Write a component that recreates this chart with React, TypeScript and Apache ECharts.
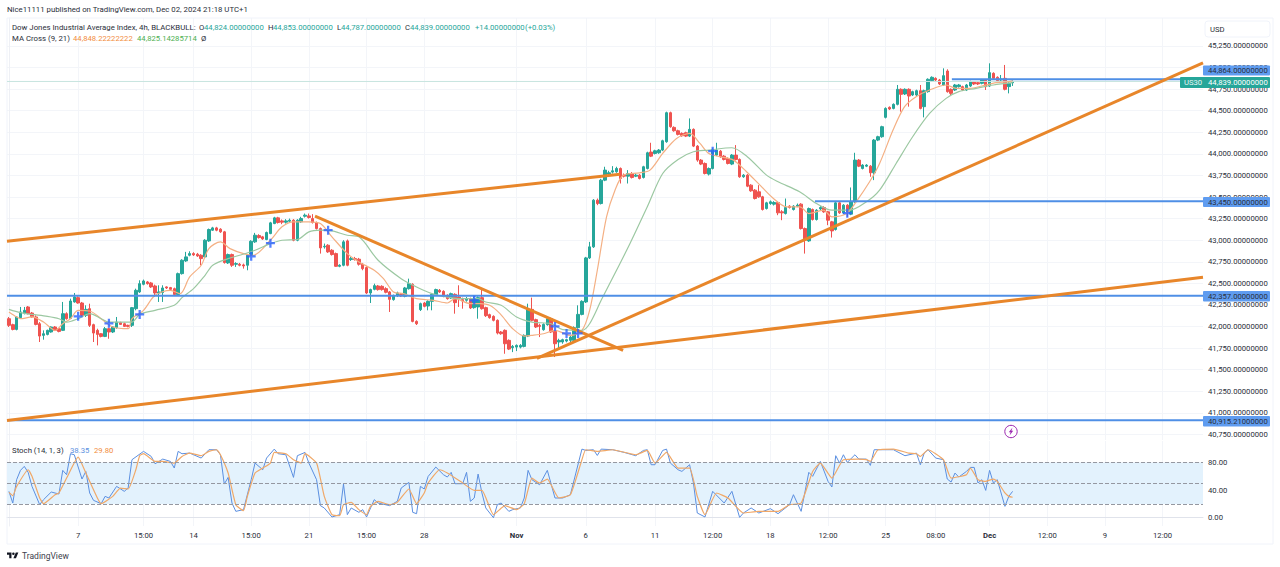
import React, { useEffect, useRef } from "react";
import * as echarts from "echarts";

// open, high, low, close of each 4h bar
const ohlc: number[][] = [
[42091,42111,41995,42014],[42022,42033,41956,41967],[41967,42118,41956,42111],[42103,42227,42091,42169],[42157,42227,42141,42188],
[42227,42238,42141,42149],[42157,42169,42103,42111],[42111,42130,42014,42025],[42033,42052,41821,41890],[41898,41956,41848,41917],
[41909,41964,41898,41956],[41937,42002,41929,41995],[41995,42006,41948,41956],[41975,41983,41933,41944],[41956,42285,41948,42149],
[42149,42165,42080,42091],[42095,42323,42087,42296],[42285,42389,42277,42342],[42335,42350,42265,42273],[42273,42285,42118,42130],
[42130,42246,42111,42199],[42207,42265,41995,42014],[42022,42033,41821,41925],[41956,41975,41782,41909],[41917,41925,41875,41886],
[41886,41995,41878,41975],[41975,41987,41859,41937],[41937,42006,41925,41995],[41987,42111,41975,42052],[42045,42056,42018,42025],
[42033,42045,41995,42002],[42014,42022,41991,42002],[42014,42227,41995,42219],[42207,42439,42188,42420],[42401,42536,42389,42497],
[42490,42544,42478,42528],[42517,42528,42486,42497],[42505,42517,42447,42459],[42470,42486,42342,42389],[42389,42478,42285,42401],
[42393,42478,42285,42447],[42459,42466,42435,42447],[42451,42459,42420,42431],[42439,42451,42358,42370],[42370,42625,42358,42613],
[42613,42780,42602,42768],[42760,42865,42749,42807],[42826,42872,42814,42845],[42845,42861,42818,42830],[42838,42853,42807,42818],
[42826,42838,42710,42787],[42807,43012,42795,43000],[42992,43135,42981,43124],[43116,43155,43108,43143],[43143,43155,43104,43116],
[43128,43139,43085,43097],[43097,43108,42729,42741],[42737,42845,42725,42834],[42834,42845,42691,42710],[42722,42745,42691,42729],
[42722,42737,42698,42710],[42714,42729,42671,42702],[42710,42838,42652,42826],[42826,43000,42814,42988],[42981,43085,42969,43058],
[43054,43070,43019,43031],[43039,43050,43004,43015],[43008,43100,43000,43089],[43077,43213,43070,43201],[43193,43271,43186,43259],
[43259,43271,43193,43205],[43224,43240,43186,43209],[43209,43244,43193,43224],[43220,43251,43201,43232],[43232,43244,42988,43000],
[43000,43244,42988,43232],[43213,43271,43201,43251],[43278,43309,43263,43290],[43282,43309,43251,43263],[43251,43302,43193,43205],
[43205,43216,43124,43135],[43135,43147,42845,42911],[42923,42961,42903,42930],[42942,42954,42853,42865],[42884,42896,42822,42834],
[42845,42857,42691,42698],[42698,42722,42687,42710],[42710,43000,42698,42981],[42992,43008,42698,42710],[42776,42807,42760,42787],
[42787,42807,42764,42776],[42780,42795,42706,42722],[42722,42737,42652,42671],[42683,42698,42377,42389],[42389,42439,42273,42428],
[42431,42497,42420,42474],[42470,42482,42416,42428],[42466,42478,42416,42428],[42439,42455,42385,42397],[42401,42412,42169,42315],
[42312,42370,42300,42358],[42358,42404,42342,42389],[42373,42389,42342,42354],[42350,42459,42339,42447],[42439,42555,42428,42497],
[42490,42501,42049,42060],[42060,42072,42018,42033],[42196,42277,42180,42265],[42273,42285,42223,42234],[42238,42304,42188,42292],
[42292,42385,42188,42373],[42370,42439,42358,42428],[42420,42435,42389,42401],[42408,42420,42339,42350],[42362,42373,42312,42323],
[42331,42393,42319,42381],[42373,42385,42149,42277],[42342,42478,42227,42323],[42312,42335,42207,42296],[42304,42342,42288,42323],
[42323,42335,42203,42215],[42219,42342,42207,42323],[42227,42350,42091,42335],[42335,42439,42196,42207],[42219,42230,42111,42126],
[42138,42149,42091,42103],[42118,42130,42060,42072],[42072,42083,41909,41925],[41937,41948,41905,41917],[41956,41967,41685,41801],
[41840,41851,41728,41739],[41755,41786,41704,41770],[41762,41793,41716,41782],[41762,41797,41747,41782],[41770,41909,41759,41898],
[41890,42265,41878,42196],[42199,42335,42060,42072],[42080,42091,41983,41995],[42014,42033,41878,42002],[41964,42037,41952,42025],
[42022,42111,42010,42091],[42091,42103,41925,41937],[41944,41956,41647,41801],[41821,41859,41743,41840],[41821,41859,41801,41848],
[41832,41859,41817,41848],[41840,41890,41821,41878],[41840,42002,41828,41987],[41987,42246,41975,42141],[42141,42304,42130,42292],
[42285,42807,42273,42795],[42795,42981,42783,42923],[42923,43476,42911,43464],[43464,43483,43406,43425],[43425,43711,43414,43696],
[43696,43851,43684,43812],[43766,43804,43750,43781],[43789,43858,43773,43804],[43793,43851,43781,43831],[43831,43843,43657,43715],
[43754,43773,43727,43742],[43742,43812,43657,43773],[43773,43789,43715,43727],[43742,43773,43731,43754],[43754,43766,43704,43715],
[43727,43862,43715,43851],[43831,44025,43820,44013],[44021,44129,43963,43974],[44005,44048,43994,44036],[44013,44056,44001,44044],
[44044,44164,44032,44152],[44141,44489,44129,44477],[44477,44489,44303,44315],[44307,44319,44257,44268],[44268,44280,44214,44226],
[44237,44249,44199,44210],[44245,44257,44195,44206],[44206,44411,44195,44284],[44284,44295,44079,44090],[44090,44102,43909,43928],
[43928,43940,43870,43882],[43889,43901,43762,43773],[43766,43843,43750,43831],[43831,44063,43820,44052],[43986,44129,43974,44044],
[44032,44044,43955,43967],[43974,43986,43924,43936],[43947,43959,43878,43889],[43882,43998,43870,43986],[43986,44102,43924,43936],
[43936,43947,43723,43735],[43735,43766,43723,43754],[43754,43766,43615,43626],[43638,43649,43561,43572],[43580,43592,43472,43483],
[43561,43638,43491,43503],[43503,43514,43344,43356],[43367,43445,43356,43433],[43425,43460,43410,43445],[43418,43452,43402,43437],
[43437,43449,43290,43317],[43329,43348,43232,43317],[43309,43483,43298,43379],[43394,43406,43367,43379],[43356,43406,43344,43394],
[43394,43425,43383,43406],[43418,43429,43124,43135],[43135,43147,42845,43000],[42992,43379,42981,43367],[43356,43367,43228,43240],
[43240,43360,43228,43348],[43363,43394,43348,43379],[43379,43394,43317,43329],[43329,43340,43174,43232],[43213,43224,43031,43108],
[43124,43445,43112,43433],[43433,43445,43305,43317],[43317,43418,43305,43406],[43406,43418,43271,43329],[43302,43611,43290,43445],
[43445,44013,43433,43928],[43928,43940,43847,43858],[43831,43881,43820,43870],[43858,43881,43847,43870],[43858,43870,43735,43781],
[43781,44172,43696,44160],[44160,44210,44148,44199],[44199,44326,44187,44315],[44423,44539,44411,44527],[44539,44550,44508,44520],
[44527,44585,44516,44574],[44574,44798,44562,44748],[44748,44759,44489,44690],[44694,44759,44682,44748],[44748,44759,44547,44670],
[44682,44732,44670,44721],[44682,44744,44670,44732],[44732,44798,44516,44527],[44547,44744,44423,44732],[44721,44875,44709,44864],
[44848,44898,44837,44887],[44875,44887,44844,44856],[44856,44868,44798,44810],[44798,44991,44786,44906],[44960,44980,44709,44721],
[44748,44759,44670,44701],[44740,44810,44728,44798],[44779,44810,44767,44798],[44779,44790,44728,44740],[44740,44810,44728,44798],
[44786,44848,44775,44837],[44833,44844,44798,44810],[44825,44837,44798,44810],[44817,44868,44806,44856],[44856,44868,44740,44779],
[44786,45049,44775,44941],[44933,44945,44864,44875],[44887,44898,44837,44848],[44856,44914,44844,44868],[44875,45030,44736,44748],
[44779,44829,44701,44817],[44824,44853,44787,44839],
];

// [bar index, price] read along the moving averages
const ma9: number[][] = [
[0,42169],[2,42111],[3,42091],[6,42111],[9,42052],[12,41956],[14,42033],[16,42091],[18,42188],[21,42180],[24.5,42072],[27,41995],[31,41975],
[32,42091],[35,42188],[38,42362],[42,42420],[44.5,42381],[47,42575],[50,42710],[52,42903],[55,42981],[57.5,42903],[61,42845],[63.5,42826],
[68,43000],[71,43155],[74,43213],[78,43213],[81,43193],[84,43039],[88,42845],[91,42749],[95,42652],[97.4,42555],[100,42401],[102.6,42381],
[106,42323],[110.4,42304],[114,42273],[116,42323],[120,42265],[122.5,42265],[125,42246],[127.7,42149],[131,41975],[134,41890],[136,41898],
[139,41917],[142,41956],[146,41898],[149,41956],[151,42188],[153,42652],[155.4,43271],[157.6,43580],[159.8,43754],[164,43781],[166.7,43812],
[170,44005],[173.6,44179],[177,44237],[179.7,44121],[182,44005],[185,43967],[188.4,43928],[191.8,43793],[195.3,43638],[198.8,43483],
[202.2,43387],[205.7,43387],[208,43309],[211.8,43348],[214,43271],[217.8,43309],[220.3,43445],[223.8,43677],[226.4,43889],[229.9,44276],
[232.9,44547],[235.9,44663],[239.4,44740],[243.7,44798],[246.3,44759],[249.8,44759],[253,44786],[256.7,44825],[260,44837],[261,44848],
];
const ma21: number[][] = [
[0,42199],[3,42161],[6,42141],[10,42118],[13,42091],[15,42052],[18,42091],[21,42149],[24,42091],[26,42052],[29,42052],[32,42052],[34,42141],
[38,42188],[43,42246],[45,42335],[48,42439],[51,42594],[53,42710],[57,42787],[60,42826],[64,42884],[68,42961],[71,43000],[75,43008],[78,43097],
[81,43116],[84,43108],[88,43058],[91,43039],[96,42768],[102,42555],[106,42459],[110,42381],[113,42350],[117,42323],[122,42323],[124,42285],
[128,42246],[132,42111],[136,42052],[141,42033],[144,41964],[149,41956],[151,42033],[154,42304],[158,42652],[161.5,42961],[166,43387],[170,43773],
[174,43936],[178,44025],[182,44044],[188,44071],[192,43967],[197,43754],[200,43677],[205.6,43561],[210,43425],[214,43348],[218.6,43348],
[223,43445],[226.4,43580],[230.7,43889],[235,44199],[239.4,44469],[243.7,44643],[247,44721],[251.5,44759],[256,44798],[261,44825],
];

// [bar index, value]
const stochK: number[][] = [
[0,38.4],[1,21.4],[2,55.3],[3,68.9],[4,74.7],[5,66],[6,45.6],[8,19],[9,26.3],[11,37.4],[13,34.5],[14,68.9],[15,62.6],[16,93.1],[17,91.6],[19,56.3],[20,67.4],
[21,36],[22,25.3],[24,20.5],[25,31.1],[26,28.7],[28,45.6],[30,38.4],[31,43.2],[32,84.4],[35,96.5],[37,89.2],[38,78.5],[40,85.3],[42,81.9],[43,72.3],[44,96.5],
[45,93.1],[47,94],[50,86.8],[52,98.9],[54,98.9],[55,91.6],[56,49],[57,58.7],[58,21.4],[59,9.3],[61,11.8],[63,55.3],[64,79.5],[66,69.8],[67,86.8],[69,99.8],
[70,93.1],[72,91.6],[74,58.7],[75,90.2],[77,95],[78,79.5],[80,55.3],[81,17.6],[82,14.2],[84,1.1],[86,4.5],[87,49],[88,4.5],[89,14.2],[91,7.9],[92,11.8],[93,1.1],
[95,26.3],[96,21.4],[99,17.6],[101,23.9],[102,43.2],[104,51.4],[105,7.9],[106,5.9],[107,45.6],[108,41.8],[109,60],[111,73.7],[113,62.6],[114,59.2],[115,66],
[116,49.5],[118,49.5],[119,66],[120,23.9],[121,28.7],[122,63.5],[123,36],[124,14.2],[126,0],[127,19],[128,21.4],[130,9.3],[131,11.8],[133,14.2],[134,28.7],
[135,68.9],[136,55.3],[138,48],[140,68.9],[142,28.7],[144,28.7],[146,33.5],[149,99.8],[150,97.9],[152,98.9],[153,90.6],[154,99.8],[157,98.9],[160,95],[163,90.2],
[165,97.9],[166,98.9],[167,77.1],[168,77.1],[170,97.9],[171,99.8],[172,79.5],[174,69.8],[175,67.4],[177,77.1],[178,50.5],[179,6.9],[181,1.1],[183,38.4],[186,21.4],
[188,38.4],[190,0.6],[191,6.9],[193,14.2],[195,6.9],[198,13.2],[200,5.9],[203,19],[204,33.5],[206,9.3],[208,66],[209,60.2],[211,81.9],[213,52.9],[214,44.7],
[215,90.2],[216,79.5],[217,91.6],[218,80.5],[220,91.6],[221,85.3],[223,85.3],[224,76.1],[225,98.9],[226,98.9],[230,98.9],[233,90.2],[236,94],[237,77.1],[238,94],
[239,98.9],[241,86.8],[243,84.4],[244,56.3],[245,51.9],[246,65],[247,59.2],[249,67.4],[250,73.2],[251,73.2],[252,50.5],[253,55.3],[254,39.8],[255,68.9],[256,50.5],
[257,55.3],[259,16.6],[260,31.1],[261,38.35],
];
const stochD: number[][] = [
[0,36.9],[1,32.1],[2,45.6],[5,69.8],[6,60.2],[8,28.7],[9,20.5],[12,33.5],[13,36],[15,57.7],[18,88.2],[20,65],[23,28.7],[24,20.5],[27,31.1],[29,43.2],[31,41.8],
[33,69.8],[34,90.2],[35,93.1],[38,81.9],[40,81.9],[43,79.5],[45,89.2],[47,94],[50,90.2],[52,96.5],[54,98.9],[55,91.6],[57,65],[59,19],[61,10.3],[62,31.1],[64,65],
[66,72.3],[68,79.5],[69,95],[72,93.1],[74,84.4],[76,79.5],[77,93.1],[80,79.5],[82,31.1],[84,4.5],[86,3],[87,19],[89,22.4],[91,11.8],[93,4.5],[94,16.6],[96,23.9],
[99,19],[101,22.4],[104,41.8],[106,20.5],[108,36],[109,50.5],[112,69.8],[114,65],[118,50.5],[121,39.8],[123,39.8],[126,4.5],[129,17.6],[132,11.8],[134,20.5],[136,57.7],
[138,50.5],[140,56.3],[143,28.7],[146,33.5],[149,84.4],[150,98.9],[153,96.5],[157,98.9],[163,91.6],[166,97.9],[168,79.5],[171,95],[174,72.3],[177,72.3],[179,31.1],
[181,4.5],[184,36],[187,28.7],[191,6.9],[195,9.3],[200,9.3],[203,19],[206,21.4],[209,67.4],[211,79.5],[214,57.7],[217,84.4],[221,85.3],[223,84.4],[224,81.9],[226,98.9],
[230,99.8],[234,94],[236,93.1],[237,89.2],[239,98.9],[243,84.4],[245,57.7],[249,62.6],[250,72.3],[252,55.3],[254,52.9],[256,56.3],[257,52.9],[259,36],[260,31.1],[261,29.8],
];

// [bar index, price] of each "MA Cross" marker
const crosses: number[][] = [
[18,42118],[26,42037],[34,42141],[63,42814],[68,42965],[83,43116],[121,42304],[142,42002],[145,41921],[148,41921],[183,44032],[218,43313],
];

// drawn trend lines and horizontal levels, as [bar index, price] end points
const trendUpper = [[-0.5,42988],[158.9,43765]];
const trendDown = [[79.6,43278],[159.7,41724]];
const trendLower = [[-0.5,40912],[310.5,42570]];
const trendRise = [[137.3,41631],[310.5,45053]];
const levelA = [[-0.5,42357],[310.5,42357]];
const levelB = [[-0.5,40915.21],[310.5,40915.21]];
const levelC = [[209.6,43450],[310.5,43450]];
const levelD = [[245.2,44864],[310.5,44864]];
const lastPrice = [[-0.5,44839],[310.5,44839]];

const priceTicks = [45250,45000,44750,44500,44250,44000,43750,43500,43250,43000,42750,42500,42250,42000,41750,41500,41250,41000,40750];
const stochTicks = [0,40,80];
const stochLevels = [20,50,80];
const timeBars = [18,35,48,63,78,93,108,132,150,168,183,198,213,228,241,255,270,285,300];
const timeNames = ["7","15:00","14","15:00","21","15:00","28","Nov","6","11","12:00","18","12:00","25","08:00","Dec","12:00","9","12:00"];

const categories = Array.from({ length: 311 }, (_, i) => String(i));

const FONT = "Roboto, 'Noto Sans', sans-serif";
const INK = "#2a2e39";
const UP = "#26a69a";
const DOWN = "#ef5350";
const ORANGE = "#e8862a";
const LEVEL = "#4f8fe6";
const GRID = "#f3f5f9";
const TAG = "#5f9cf0";
const SIZE = 7.7;
const fmt = (v: number) => v.toLocaleString("en-US", { minimumFractionDigits: 8, maximumFractionDigits: 8 });

const lineOf = (data: number[][], color: string, width: number, axis = 1, extra: object = {}) => ({
  type: "line", xAxisIndex: axis, yAxisIndex: axis === 1 ? 0 : 1, data, showSymbol: false, silent: true,
  lineStyle: { color, width }, itemStyle: { color }, ...extra,
});

const txt = (x: number, y: number, text: string, fill = INK, size = SIZE) => ({
  type: "text", x, y, z: 120, style: { text, fill, font: `${size}px ${FONT}`, textVerticalAlign: "middle" },
});

export default function App() {
  const ref = useRef<HTMLDivElement>(null);
  useEffect(() => {
    echarts.graphic.registerShape(
      "tvlogo",
      echarts.graphic.extendPath("M14 22H7V11H0V4h14v18zM28 22h-8l7.5-18h8L28 22zM20 4a4 4 0 1 1 0 8a4 4 0 0 1 0-8z", {})
    );
    const chart = echarts.init(ref.current!, undefined, { renderer: "svg" });
    const xHidden = (gridIndex: number) => ({
      type: "value", gridIndex, min: -0.5, max: 310.5, position: "bottom",
      axisLine: { show: false },
      axisTick: { show: false, customValues: timeBars },
      splitLine: { show: true, lineStyle: { color: GRID, width: 1 } },
    });
    chart.setOption({
      animation: false,
      backgroundColor: "#ffffff",
      textStyle: { fontFamily: FONT },
      grid: [
        { left: 7, top: 18, width: 1196, height: 422 },
        { left: 7, top: 441, width: 1196, height: 85 },
      ],
      xAxis: [
        { type: "category", gridIndex: 0, data: categories, show: false },
        { ...xHidden(0), axisLabel: { show: false } },
        {
          ...xHidden(1),
          axisLine: { show: true, lineStyle: { color: "#e0e3eb" } },
          axisLabel: {
            show: true, customValues: timeBars, color: INK, fontSize: SIZE, margin: 5, hideOverlap: false,
            formatter: (v: number) => {
              const n = timeNames[timeBars.indexOf(v)] ?? "";
              return n === "Nov" || n === "Dec" ? `{b|${n}}` : n;
            },
            rich: { b: { fontWeight: "bold", fontSize: SIZE, color: INK } },
          },
        },
      ],
      yAxis: [
        {
          type: "value", gridIndex: 0, min: 40686, max: 45574, position: "right", scale: true,
          axisLine: { show: true, lineStyle: { color: "#eef0f5" } },
          axisTick: { show: false, customValues: priceTicks },
          splitLine: { show: true, lineStyle: { color: GRID, width: 1 } },
          axisLabel: {
            show: true, customValues: priceTicks, color: INK, fontSize: SIZE, margin: 5, hideOverlap: false,
            formatter: (v: number) => fmt(v),
          },
        },
        {
          type: "value", gridIndex: 1, min: -12, max: 111.6, position: "right",
          axisLine: { show: true, lineStyle: { color: "#eef0f5" } },
          axisTick: { show: false, customValues: stochTicks },
          splitLine: { show: true, lineStyle: { color: GRID, width: 1 } },
          axisLabel: {
            show: true, customValues: stochTicks, color: INK, fontSize: SIZE, margin: 5, hideOverlap: false,
            formatter: (v: number) => v.toFixed(2),
          },
        },
      ],
      series: [
        lineOf(lastPrice, "#c7e4df", 1),
        {
          type: "candlestick", xAxisIndex: 0, yAxisIndex: 0, silent: true, barWidth: 3,
          data: ohlc.map(([o, h, l, c]) => [o, c, l, h]),
          itemStyle: { color: UP, color0: DOWN, borderColor: UP, borderColor0: DOWN, borderWidth: 1 },
        },
        lineOf(ma9, "#f4b084", 1.2, 1, { smooth: 0.3 }),
        lineOf(ma21, "#9cc8a2", 1.2, 1, { smooth: 0.3 }),
        lineOf(levelA, LEVEL, 2),
        lineOf(levelB, LEVEL, 2),
        lineOf(levelC, LEVEL, 2),
        lineOf(levelD, LEVEL, 2),
        lineOf(trendUpper, ORANGE, 3),
        lineOf(trendDown, ORANGE, 3),
        lineOf(trendLower, ORANGE, 3),
        lineOf(trendRise, ORANGE, 3),
        {
          type: "scatter", xAxisIndex: 1, yAxisIndex: 0, silent: true, data: crosses, z: 5,
          symbol: "path://M3 0H5V3H8V5H5V8H3V5H0V3H3Z", symbolSize: 9, itemStyle: { color: "#2962ff" },
        },
        lineOf(stochK, "#5b8fe0", 1, 2, {
          markArea: {
            silent: true, itemStyle: { color: "#e3f2fd" },
            data: [[{ yAxis: 20 }, { yAxis: 80 }]],
          },
          markLine: {
            silent: true, symbol: "none", label: { show: false },
            lineStyle: { color: "#9598a1", type: "dashed", width: 1 },
            data: stochLevels.map((v) => ({ yAxis: v })),
          },
        }),
        lineOf(stochD, "#f0a868", 1.2, 2, { smooth: 0.15 }),
      ],
      graphic: [
        { type: "rect", z: 1, shape: { x: 7, y: 18, width: 1266, height: 526 }, style: { fill: "none", stroke: "#f0f3fa" } },
        { type: "rect", z: 110, shape: { x: 1205, y: 21, width: 65, height: 16, r: 3 }, style: { fill: "#fff", stroke: "#f0f3fa" } },
        txt(1210, 29, "USD"),
        txt(7, 9, "Nice11111 published on TradingView.com, Dec 02, 2024 21:18 UTC+1", INK, 7.8),
        txt(12, 27, "Dow Jones Industrial Average Index, 4h, BLACKBULL:", INK, 7.8),
        txt(199, 27, "O"), txt(204, 27, "44,824.00000000", UP),
        txt(268, 27, "H"), txt(273, 27, "44,853.00000000", UP),
        txt(337, 27, "L"), txt(341, 27, "44,787.00000000", UP),
        txt(405, 27, "C"), txt(410, 27, "44,839.00000000", UP),
        txt(475, 27, "+14.00000000", UP), txt(525, 27, "(+0.03%)", UP),
        txt(12, 38, "MA Cross (9, 21)", INK, 7.8),
        txt(73, 38, "44,848.22222222", "#f28c3c"),
        txt(137, 38, "44,825.14285714", "#4caf50"),
        txt(201, 38, "Ø"),
        txt(12, 450, "Stoch (14, 1, 3)", INK, 7.8),
        txt(70, 450, "38.35", "#5b8fe0"),
        txt(94, 450, "29.80", "#f28c3c"),
        // price tags on the right axis
        { type: "rect", z: 110, shape: { x: 1203, y: 65.5, width: 67, height: 10, r: 1 }, style: { fill: TAG } },
        txt(1208, 70.7, fmt(44864)),
        { type: "rect", z: 110, shape: { x: 1203, y: 197, width: 67, height: 10, r: 1 }, style: { fill: TAG } },
        txt(1208, 202, fmt(43450)),
        { type: "rect", z: 110, shape: { x: 1203, y: 291, width: 67, height: 10.5, r: 1 }, style: { fill: TAG } },
        txt(1208, 296.2, fmt(42357)),
        { type: "rect", z: 110, shape: { x: 1203, y: 416, width: 67, height: 10.5, r: 1 }, style: { fill: TAG } },
        txt(1208, 421, "40,915.21000000"),
        { type: "rect", z: 110, shape: { x: 1180, y: 77, width: 90, height: 11, r: 1 }, style: { fill: UP } },
        txt(1184, 82.5, "US30", "#e6f5f3"),
        txt(1208, 82.5, fmt(44839), "#ffffff"),
        // alert icon
        { type: "circle", z: 110, shape: { cx: 1011, cy: 431.5, r: 6.2 }, style: { fill: "#fff", stroke: "#9c27b0", lineWidth: 1 } },
        { type: "polygon", z: 111, shape: { points: [[1012.5, 427.5], [1008.8, 432.2], [1010.6, 432.2], [1009.6, 435.5], [1013.2, 430.8], [1011.4, 430.8]] }, style: { fill: "#9c27b0" } },
        // TradingView mark
        { type: "tvlogo", x: 7, y: 551.2, scaleX: 0.32, scaleY: 0.32, z: 120, style: { fill: "#131722" } },
        txt(22, 555.5, "TradingView", "#3d414d", 8.5),
      ],
    });
    return () => chart.dispose();
  }, []);
  return <div ref={ref} style={{ position: "fixed", left: 0, top: 0, width: 1280, height: 567 }} />;
}
